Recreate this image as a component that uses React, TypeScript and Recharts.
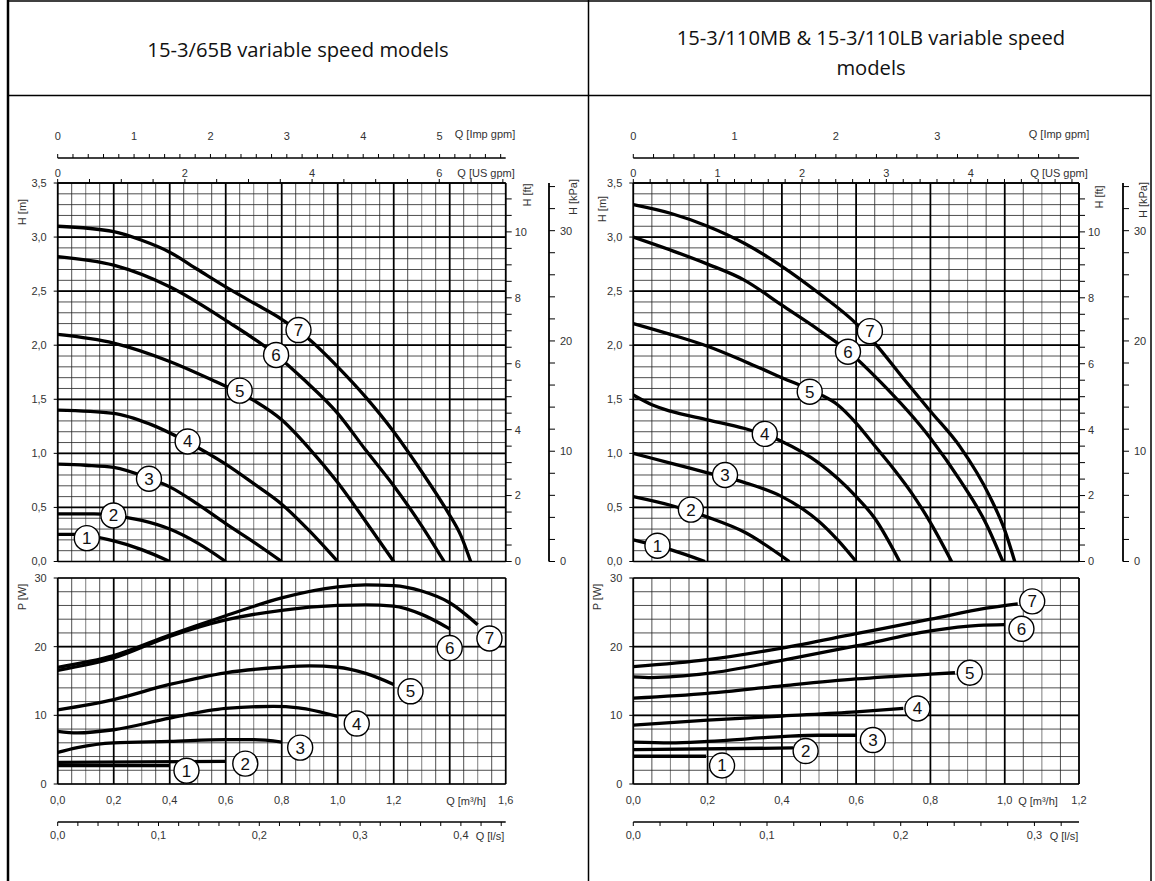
import React from "react"
import { ComposedChart, Line, Scatter, XAxis, YAxis, ReferenceLine } from "recharts"

// unit conversions from m3/h and m
const US_GPM = 4.40287
const IMP_GPM = 3.66615
const LPS = 1 / 3.6
const M_FT = 1 / 0.3048
const M_KPA = 9.80665

// ---- left panel (15-3/65B), H [m] vs Q [m3/h]
const left65H1 = [[0, 0.25], [0.06, 0.25], [0.2, 0.19], [0.3, 0.11], [0.4, 0]]
const left65H2 = [[0, 0.44], [0.13, 0.44], [0.2, 0.425], [0.3, 0.38], [0.4, 0.3], [0.5, 0.17], [0.6, 0]]
const left65H3 = [[0, 0.9], [0.1, 0.89], [0.2, 0.87], [0.33, 0.765], [0.4, 0.69], [0.5, 0.53], [0.6, 0.35], [0.7, 0.18], [0.8, 0]]
const left65H4 = [[0, 1.4], [0.2, 1.37], [0.33, 1.27], [0.46, 1.11], [0.6, 0.9], [0.7, 0.72], [0.8, 0.53], [0.9, 0.28], [1.0, 0]]
const left65H5 = [[0, 2.1], [0.2, 2.02], [0.4, 1.85], [0.55, 1.68], [0.7, 1.49], [0.8, 1.31], [0.9, 1.04], [1.0, 0.73], [1.1, 0.37], [1.2, 0]]
const left65H6 = [[0, 2.82], [0.2, 2.74], [0.4, 2.54], [0.6, 2.23], [0.78, 1.91], [0.88, 1.68], [1.0, 1.37], [1.1, 1.03], [1.2, 0.7], [1.3, 0.33], [1.38, 0]]
const left65H7 = [[0, 3.1], [0.2, 3.05], [0.3, 2.97], [0.4, 2.86], [0.5, 2.7], [0.6, 2.54], [0.7, 2.39], [0.8, 2.24], [0.9, 2.05], [1.0, 1.8], [1.1, 1.52], [1.2, 1.2], [1.3, 0.83], [1.39, 0.47], [1.44, 0.24], [1.475, 0]]
const left65HMarks = [[0.104, 0.216, 1], [0.199, 0.426, 2], [0.326, 0.765, 3], [0.464, 1.11, 4], [0.65, 1.58, 5], [0.78, 1.91, 6], [0.86, 2.14, 7]]

// ---- left panel, P [W] vs Q [m3/h]
const left65P1 = [[0, 2.67], [0.4, 2.67]]
const left65P2 = [[0, 3.15], [0.6, 3.3]]
const left65P3 = [[0, 4.6], [0.07, 5.3], [0.2, 6.0], [0.4, 6.2], [0.6, 6.45], [0.7, 6.45], [0.8, 6.1]]
const left65P4 = [[0, 7.67], [0.07, 7.45], [0.2, 7.9], [0.4, 9.6], [0.6, 11.0], [0.77, 11.3], [0.86, 11.1], [1.0, 9.85]]
const left65P5 = [[0, 10.8], [0.2, 12.3], [0.4, 14.5], [0.6, 16.2], [0.8, 17.0], [0.9, 17.2], [1.0, 17.0], [1.1, 16.1], [1.2, 14.5]]
const left65P6 = [[0, 16.55], [0.2, 18.35], [0.4, 21.5], [0.6, 23.9], [0.8, 25.3], [1.0, 26.0], [1.1, 26.1], [1.2, 25.9], [1.3, 24.7], [1.4, 22.6]]
const left65P7 = [[0, 17.0], [0.2, 18.7], [0.4, 21.7], [0.6, 24.5], [0.8, 27.1], [1.0, 28.7], [1.1, 29.0], [1.2, 28.9], [1.3, 28.1], [1.4, 26.4], [1.5, 23.2]]
const left65PMarks = [[0.46, 1.94, 1], [0.67, 2.96, 2], [0.866, 5.3, 3], [1.068, 8.8, 4], [1.26, 13.5, 5], [1.4, 19.8, 6], [1.542, 21.2, 7]]

// ---- right panel (15-3/110MB & LB), H [m]
const right110H1 = [[0, 0.2], [0.1, 0.11], [0.193, 0]]
const right110H2 = [[0, 0.6], [0.1, 0.52], [0.2, 0.41], [0.3, 0.27], [0.42, 0]]
const right110H3 = [[0, 1.0], [0.1, 0.91], [0.2, 0.82], [0.3, 0.73], [0.4, 0.6], [0.45, 0.5], [0.5, 0.37], [0.55, 0.2], [0.6, 0]]
const right110H4 = [[0, 1.54], [0.05, 1.45], [0.1, 1.39], [0.2, 1.31], [0.3, 1.23], [0.4, 1.11], [0.5, 0.91], [0.6, 0.6], [0.65, 0.4], [0.717, 0]]
const right110H5 = [[0, 2.2], [0.1, 2.1], [0.2, 1.99], [0.3, 1.85], [0.4, 1.7], [0.5, 1.55], [0.55, 1.45], [0.6, 1.28], [0.65, 1.07], [0.7, 0.86], [0.75, 0.63], [0.8, 0.36], [0.857, 0]]
const right110H6 = [[0, 3.0], [0.1, 2.88], [0.2, 2.75], [0.3, 2.6], [0.4, 2.37], [0.5, 2.14], [0.58, 1.94], [0.66, 1.68], [0.8, 1.14], [0.88, 0.75], [0.95, 0.35], [0.995, 0]]
const right110H7 = [[0, 3.3], [0.1, 3.22], [0.2, 3.1], [0.3, 2.94], [0.4, 2.73], [0.5, 2.48], [0.6, 2.2], [0.65, 2.02], [0.73, 1.68], [0.8, 1.39], [0.88, 1.06], [0.96, 0.6], [1.0, 0.29], [1.027, 0]]
const right110HMarks = [[0.065, 0.146, 1], [0.155, 0.48, 2], [0.247, 0.8, 3], [0.354, 1.18, 4], [0.475, 1.57, 5], [0.578, 1.94, 6], [0.637, 2.13, 7]]

// ---- right panel, P [W]
const right110P1 = [[0, 4.04], [0.196, 4.04]]
const right110P2 = [[0, 5.0], [0.43, 5.25]]
const right110P3 = [[0, 6.1], [0.1, 6.0], [0.2, 6.2], [0.4, 6.9], [0.5, 7.1], [0.6, 7.1]]
const right110P4 = [[0, 8.57], [0.2, 9.3], [0.4, 9.9], [0.6, 10.5], [0.727, 11.0]]
const right110P5 = [[0, 12.5], [0.2, 13.2], [0.4, 14.3], [0.6, 15.3], [0.8, 16.0], [0.866, 16.2]]
const right110P6 = [[0, 15.6], [0.05, 15.5], [0.2, 16.1], [0.4, 18.0], [0.6, 20.1], [0.8, 22.3], [0.93, 23.1], [1.0, 23.2]]
const right110P7 = [[0, 17.1], [0.2, 18.1], [0.4, 19.8], [0.6, 21.9], [0.8, 24.0], [0.95, 25.6], [1.035, 26.25]]
const right110PMarks = [[0.239, 2.7, 1], [0.464, 4.8, 2], [0.645, 6.4, 3], [0.765, 11.0, 4], [0.906, 16.2, 5], [1.045, 22.6, 6], [1.074, 26.6, 7]]

// tick labels
const hLabelsM = [0, 0.5, 1, 1.5, 2, 2.5, 3, 3.5]
const ftLabels = [0, 2, 4, 6, 8, 10]
const kpaLabels = [0, 10, 20, 30]
const pLabels = [0, 10, 20, 30]
const leftUsLabels = [0, 2, 4, 6]
const leftImpLabels = [0, 1, 2, 3, 4, 5]
const rightUsLabels = [0, 1, 2, 3, 4]
const rightImpLabels = [0, 1, 2, 3]
const leftQLabels = [0, 0.2, 0.4, 0.6, 0.8, 1.0, 1.2, 1.6]
const rightQLabels = [0, 0.2, 0.4, 0.6, 0.8, 1.0, 1.2]
const leftLpsLabels = [0, 0.1, 0.2, 0.3, 0.4]
const rightLpsLabels = [0, 0.1, 0.2, 0.3]

const steps = (from: number, to: number, step: number) => {
  const out: number[] = []
  const n = Math.floor((to - from) / step + 1e-6)
  for (let i = 0; i <= n; i++) out.push(Math.round((from + i * step) * 1000) / 1000)
  return out
}

const toPts = (rows: number[][]) => rows.map(([x, y]) => ({ x, y }))
const toMarks = (rows: number[][]) => rows.map(([x, y, n]) => ({ x, y, n }))

const comma1 = (v: number) => v.toFixed(1).replace(".", ",")
const only = (list: number[], fmt: (v: number) => string = String) => (v: number) =>
  list.some((l) => Math.abs(l - v) < 1e-6) ? fmt(v) : ""

const FONT = "'Liberation Sans', Arial, Helvetica, sans-serif"
const tickFont = { fontSize: 11, fill: "#333", fontFamily: FONT }

const renderMark = (props: any) => {
  const { cx, cy, payload } = props
  return (
    <g>
      <circle cx={cx} cy={cy} r={12.5} fill="#fff" stroke="#000" strokeWidth={1.4} />
      <text x={cx} y={cy + 6} textAnchor="middle" fontSize={17} fontFamily={FONT} fill="#111">
        {payload.n}
      </text>
    </g>
  )
}

type Side = {
  left: number
  width: number
  ml: number
  yw: number
  ftw: number
  kpaw: number
  mrH: number
  mrP: number
  qMax: number
  qLabels: number[]
  usStep: number
  usLabels: number[]
  impLabels: number[]
  lpsLabels: number[]
  hCurves: number[][][]
  hMarks: number[][]
  pCurves: number[][][]
  pMarks: number[][]
}

// odd tenths of m3/h print lighter in the original sheet
const isOddTenth = (v: number) => Math.abs(v * 10 - Math.round(v * 10)) < 1e-6 && Math.round(v * 10) % 2 === 1

function gridElements(qMax: number, yMax: number, yMinor: number, yMajor: number, yId: string) {
  const els: React.ReactNode[] = []
  steps(0, qMax, 0.05).forEach((v) =>
    els.push(
      <ReferenceLine
        key={"vm" + v}
        xAxisId="a_q"
        yAxisId={yId}
        x={v}
        stroke={isOddTenth(v) ? "#8a8a8a" : "#222"}
        strokeWidth={isOddTenth(v) ? 1.1 : 0.8}
      />
    )
  )
  steps(0, yMax, yMinor).forEach((v) =>
    els.push(<ReferenceLine key={"hm" + v} xAxisId="a_q" yAxisId={yId} y={v} stroke="#222" strokeWidth={0.8} />)
  )
  steps(0, qMax, 0.2).forEach((v) =>
    els.push(<ReferenceLine key={"vM" + v} xAxisId="a_q" yAxisId={yId} x={v} stroke="#000" strokeWidth={1.7} />)
  )
  steps(0, yMax, yMajor).forEach((v) =>
    els.push(<ReferenceLine key={"hM" + v} xAxisId="a_q" yAxisId={yId} y={v} stroke="#000" strokeWidth={1.7} />)
  )
  return els
}

// invisible series so that a secondary axis has something bound to it
const anchorLine = (xId: string, yId: string, xMax: number, yVal: number) => (
  <Line
    key={"anchor" + xId}
    xAxisId={xId}
    yAxisId={yId}
    data={[{ x: 0, y: yVal }, { x: xMax, y: yVal }]}
    dataKey="y"
    stroke="none"
    strokeWidth={0}
    dot={false}
    activeDot={false}
    legendType="none"
    isAnimationActive={false}
  />
)

function HeadChart({ s }: { s: Side }) {
  const usMax = s.qMax * US_GPM
  const impMax = s.qMax * IMP_GPM
  return (
    <div style={{ position: "absolute", left: s.left, top: 100 }}>
      <ComposedChart width={s.width} height={470} margin={{ top: 33, right: s.mrH, bottom: 8.5, left: s.ml }}>
        <XAxis xAxisId="a_q" dataKey="x" type="number" domain={[0, s.qMax]} hide allowDataOverflow />
        <XAxis
          xAxisId="t1_us"
          dataKey="x"
          orientation="top"
          type="number"
          domain={[0, usMax]}
          ticks={steps(0, usMax, s.usStep)}
          tickFormatter={only(s.usLabels)}
          interval={0}
          height={25}
          tickSize={4}
          tickMargin={2}
          tick={tickFont}
          axisLine={{ stroke: "#000", strokeWidth: 1.5 }}
          tickLine={{ stroke: "#000" }}
          allowDataOverflow
        />
        <XAxis
          xAxisId="t2_imp"
          dataKey="x"
          orientation="top"
          type="number"
          domain={[0, impMax]}
          ticks={steps(0, impMax, 0.2)}
          tickFormatter={only(s.impLabels)}
          interval={0}
          height={25}
          tickSize={4}
          tickMargin={14}
          tick={tickFont}
          axisLine={{ stroke: "#000", strokeWidth: 1.5 }}
          tickLine={{ stroke: "#000" }}
          allowDataOverflow
        />
        <YAxis
          yAxisId="m"
          type="number"
          domain={[0, 3.5]}
          ticks={hLabelsM}
          tickFormatter={comma1}
          interval={0}
          width={s.yw}
          tickSize={4}
          tickMargin={7}
          tick={tickFont}
          stroke="#000"
          allowDataOverflow
        />
        <YAxis
          yAxisId="r1_ft"
          orientation="right"
          type="number"
          domain={[0, 3.5 * M_FT]}
          ticks={steps(0, 11, 0.5)}
          tickFormatter={only(ftLabels)}
          interval={0}
          width={s.ftw}
          tickSize={6}
          tickMargin={3}
          tick={tickFont}
          stroke="#000"
          allowDataOverflow
        />
        <YAxis
          yAxisId="r2_kpa"
          orientation="right"
          type="number"
          domain={[0, 3.5 * M_KPA]}
          ticks={steps(0, 34, 2)}
          tickFormatter={only(kpaLabels)}
          interval={0}
          width={s.kpaw}
          tickSize={6}
          tickMargin={5}
          tick={tickFont}
          axisLine={{ stroke: "#000", strokeWidth: 1.8 }}
          tickLine={{ stroke: "#000" }}
          allowDataOverflow
        />
        {gridElements(s.qMax, 3.5, 0.1, 0.5, "m")}
        {anchorLine("t1_us", "m", usMax, 0)}
        {anchorLine("t2_imp", "m", impMax, 0)}
        {s.hCurves.map((c, i) => (
          <Line
            key={"h" + i}
            xAxisId="a_q"
            yAxisId="m"
            data={toPts(c)}
            dataKey="y"
            type="monotone"
            stroke="#000"
            strokeWidth={3.3}
            dot={false}
            activeDot={false}
            isAnimationActive={false}
          />
        ))}
        <Scatter xAxisId="a_q" yAxisId="m" data={toMarks(s.hMarks)} dataKey="y" shape={renderMark} isAnimationActive={false} />
      </ComposedChart>
    </div>
  )
}

function PowerChart({ s }: { s: Side }) {
  const lpsMax = s.qMax * LPS
  return (
    <div style={{ position: "absolute", left: s.left, top: 560 }}>
      <ComposedChart width={s.width} height={300} margin={{ top: 18, right: s.mrP, bottom: 8, left: s.ml }}>
        <XAxis
          xAxisId="a_q"
          dataKey="x"
          type="number"
          domain={[0, s.qMax]}
          ticks={s.qLabels}
          tickFormatter={comma1}
          interval={0}
          height={38}
          tickLine={false}
          axisLine={false}
          tickSize={6}
          tickMargin={6}
          tick={tickFont}
          allowDataOverflow
        />
        <XAxis
          xAxisId="b_lps"
          dataKey="x"
          type="number"
          domain={[0, lpsMax]}
          ticks={steps(0, lpsMax, 0.02)}
          tickFormatter={only(s.lpsLabels, comma1)}
          interval={0}
          height={30}
          tickSize={4}
          tickMargin={5}
          tick={tickFont}
          axisLine={{ stroke: "#000", strokeWidth: 1.5 }}
          tickLine={{ stroke: "#000" }}
          allowDataOverflow
        />
        <YAxis
          yAxisId="p"
          type="number"
          domain={[0, 30]}
          ticks={pLabels}
          interval={0}
          width={s.yw}
          tickSize={4}
          tickMargin={7}
          tick={tickFont}
          stroke="#000"
          allowDataOverflow
        />
        {gridElements(s.qMax, 30, 2, 10, "p")}
        {anchorLine("b_lps", "p", lpsMax, 0)}
        {s.pCurves.map((c, i) => (
          <Line
            key={"p" + i}
            xAxisId="a_q"
            yAxisId="p"
            data={toPts(c)}
            dataKey="y"
            type="monotone"
            stroke="#000"
            strokeWidth={3.3}
            dot={false}
            activeDot={false}
            isAnimationActive={false}
          />
        ))}
        <Scatter xAxisId="a_q" yAxisId="p" data={toMarks(s.pMarks)} dataKey="y" shape={renderMark} isAnimationActive={false} />
      </ComposedChart>
    </div>
  )
}

const leftSide: Side = {
  left: 0,
  width: 590,
  ml: 7.7,
  yw: 50,
  ftw: 43.3,
  kpaw: 38,
  mrH: 3,
  mrP: 84.3,
  qMax: 1.6,
  qLabels: leftQLabels,
  usStep: 0.5,
  usLabels: leftUsLabels,
  impLabels: leftImpLabels,
  lpsLabels: leftLpsLabels,
  hCurves: [left65H1, left65H2, left65H3, left65H4, left65H5, left65H6, left65H7],
  hMarks: left65HMarks,
  pCurves: [left65P1, left65P2, left65P3, left65P4, left65P5, left65P6, left65P7],
  pMarks: left65PMarks,
}

const rightSide: Side = {
  left: 590,
  width: 565,
  ml: 5.3,
  yw: 38,
  ftw: 44,
  kpaw: 30,
  mrH: 2,
  mrP: 76,
  qMax: 1.2,
  qLabels: rightQLabels,
  usStep: 0.2,
  usLabels: rightUsLabels,
  impLabels: rightImpLabels,
  lpsLabels: rightLpsLabels,
  hCurves: [right110H1, right110H2, right110H3, right110H4, right110H5, right110H6, right110H7],
  hMarks: right110HMarks,
  pCurves: [right110P1, right110P2, right110P3, right110P4, right110P5, right110P6, right110P7],
  pMarks: right110PMarks,
}

function Rot({ x, y, children }: { x: number; y: number; children: React.ReactNode }) {
  return (
    <text transform={`translate(${x},${y}) rotate(-90)`} textAnchor="middle" dominantBaseline="central" fontSize={11} fill="#333" fontFamily={FONT}>
      {children}
    </text>
  )
}

function Lbl({ x, y, children }: { x: number; y: number; children: React.ReactNode }) {
  return (
    <text x={x} y={y} textAnchor="middle" dominantBaseline="central" fontSize={11} fill="#333" fontFamily={FONT}>
      {children}
    </text>
  )
}

function Overlay() {
  const titleFont = "'Open Sans', 'Noto Sans', sans-serif"
  return (
    <svg width={1155} height={881} style={{ position: "absolute", left: 0, top: 0, pointerEvents: "none" }}>
      <g stroke="#000" fill="none">
        <line x1={8} y1={0} x2={8} y2={881} strokeWidth={2.5} />
        <line x1={8} y1={1} x2={1151} y2={1} strokeWidth={1.5} />
        <line x1={8} y1={95.5} x2={1151} y2={95.5} strokeWidth={1.5} />
        <line x1={588.5} y1={0} x2={588.5} y2={881} strokeWidth={1.5} />
        <line x1={1151} y1={0} x2={1151} y2={881} strokeWidth={1.5} />
      </g>
      <g fontFamily={titleFont} fontSize={20.2} fill="#111" textAnchor="middle">
        <text x={298} y={57}>15-3/65B variable speed models</text>
        <text x={871} y={45}>15-3/110MB &amp; 15-3/110LB variable speed</text>
        <text x={871} y={75}>models</text>
      </g>
      <Lbl x={485} y={134}>Q [Imp gpm]</Lbl>
      <Lbl x={486} y={173}>Q [US gpm]</Lbl>
      <Rot x={22} y={212}>H [m]</Rot>
      <Rot x={527} y={195}>H [ft]</Rot>
      <Rot x={573} y={197}>H [kPa]</Rot>
      <Rot x={22} y={597}>P [W]</Rot>
      <Lbl x={466} y={801}>Q [m³/h]</Lbl>
      <Lbl x={490} y={836}>Q [l/s]</Lbl>

      <Lbl x={1059} y={134}>Q [Imp gpm]</Lbl>
      <Lbl x={1059} y={173}>Q [US gpm]</Lbl>
      <Rot x={602} y={209}>H [m]</Rot>
      <Rot x={1099} y={197}>H [ft]</Rot>
      <Rot x={1143} y={200}>H [kPa]</Rot>
      <Rot x={597} y={597}>P [W]</Rot>
      <Lbl x={1038} y={801}>Q [m³/h]</Lbl>
      <Lbl x={1064} y={836}>Q [l/s]</Lbl>
    </svg>
  )
}

export default function App() {
  return (
    <div style={{ position: "relative", width: 1155, height: 881, background: "#fff", overflow: "hidden" }}>
      <style>{"body{margin:0}"}</style>
      <HeadChart s={leftSide} />
      <PowerChart s={leftSide} />
      <HeadChart s={rightSide} />
      <PowerChart s={rightSide} />
      <Overlay />
    </div>
  )
}
